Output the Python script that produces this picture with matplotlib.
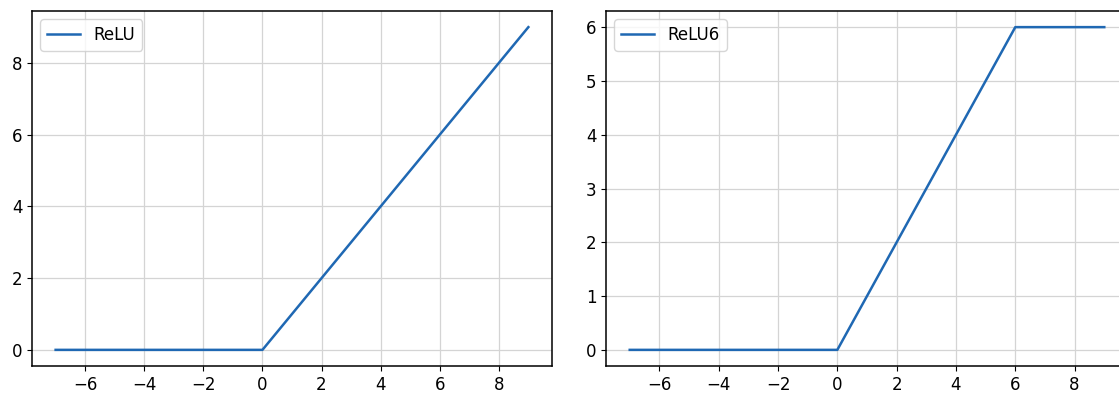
import numpy as np
import matplotlib.pyplot as plt

# punkter
x_relu = [-7, 0, 9]
y_relu = [0, 0, 9]
x_relu6 = [-7, 0, 6, 9]
y_relu6 = [0, 0, 6, 6]

plt.rcParams['font.size'] = 12
line_color = '#1f68b3'

fig = plt.figure(figsize=(11.19, 3.94), dpi=100)
ax1 = fig.add_axes([32/1119, 28/394, 520/1119, 355/394])
ax2 = fig.add_axes([606/1119, 28/394, 522/1119, 355/394])

ax1.plot(x_relu, y_relu, color=line_color, linewidth=1.8, label='ReLU')
ax2.plot(x_relu6, y_relu6, color=line_color, linewidth=1.8, label='ReLU6')

ax1.set_xticks([-6, -4, -2, 0, 2, 4, 6, 8])
ax1.set_yticks([0, 2, 4, 6, 8])
ax2.set_xticks([-6, -4, -2, 0, 2, 4, 6, 8])
ax2.set_yticks([0, 1, 2, 3, 4, 5, 6])

for ax in (ax1, ax2):
    ax.grid(color='#d4d4d4', linewidth=0.9)
    ax.set_axisbelow(True)
    ax.legend(loc='upper left')
    for s in ax.spines.values():
        s.set_linewidth(1.1)

plt.savefig('out.png', dpi=100)
